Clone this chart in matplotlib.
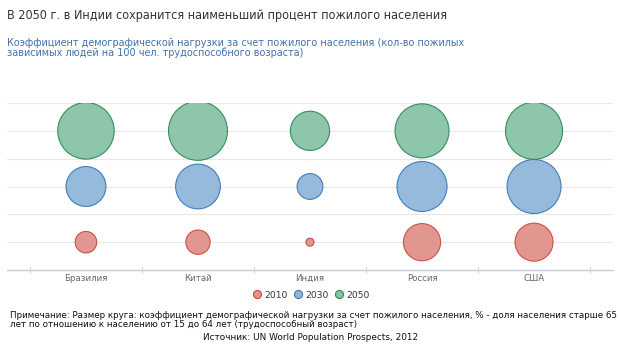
import numpy as np
import matplotlib.pyplot as plt
from matplotlib.lines import Line2D

# данные (коэффициент нагрузки пожилыми, на 100 чел. 15-64 лет)
countries = ['Бразилия', 'Китай', 'Индия', 'Россия', 'США']
years = ['2010', '2030', '2050']
ratio_2010 = [10.0, 11.0, 7.8, 18.0, 18.6]
ratio_2030 = [20.0, 24.0, 11.6, 29.0, 33.2]
ratio_2050 = [36.0, 39.0, 19.5, 33.2, 36.6]

fills = ['#e0918a', '#91b7da', '#87c3a6']
edges = ['#cf4a40', '#3c79b6', '#2e8a5a']

W, H = 620, 349
fig = plt.figure(figsize=(W / 100, H / 100), dpi=100)
plt.rcParams['font.family'] = ['DejaVu Sans']


def fx(px):
    return px / W


def fy(py):
    return 1 - py / H


ax = fig.add_axes([fx(7), fy(270), fx(613) - fx(7), fy(103) - fy(270)])

# размер круга как в bubble-диаграмме: диаметр по sqrt от нормированного значения
series = [ratio_2010, ratio_2030, ratio_2050]
zmin = min(min(s) for s in series)
zmax = max(max(s) for s in series)
min_d, max_d = 8, 59  # px


def diam(v):
    pos = (np.array(v) - zmin) / (zmax - zmin)
    return min_d + np.sqrt(pos) * (max_d - min_d)


x = np.arange(len(countries))
for i, vals in enumerate(series):
    d_pt = diam(vals) * 0.72
    ax.scatter(x, np.full(len(x), i), s=d_pt ** 2, color=fills[i], alpha=0.95,
               edgecolor=edges[i], linewidth=0.8, zorder=3)

ax.set_xlim(-0.705, 4.705)
ax.set_ylim(-0.5, 2.5)
ax.set_yticks([0, 0.5, 1, 1.5, 2, 2.5])
ax.set_yticklabels([])
ax.tick_params(axis='y', length=0)
ax.grid(axis='y', color='#e8e8e8', linewidth=0.8, zorder=0)
for s in ['top', 'right', 'left']:
    ax.spines[s].set_visible(False)
ax.spines['bottom'].set_color('#c0d0e0')
ax.spines['bottom'].set_linewidth(1)
ax.set_xticks(np.arange(-0.5, 5, 1), minor=False)
ax.set_xticklabels([])
ax.tick_params(axis='x', which='major', length=4, color='#c0d0e0', direction='inout')
ax.set_xticks(x, minor=True)
ax.set_xticklabels(countries, minor=True)
ax.tick_params(axis='x', which='minor', length=0, labelsize=6.2, labelcolor='#666666', pad=3)

fig.text(fx(7), fy(15), 'В 2050 г. в Индии сохранится наименьший процент пожилого населения',
         fontsize=9.0, fontstretch='condensed', color='#333333', va='center', ha='left')
fig.text(fx(7), fy(48), 'Коэффициент демографической нагрузки за счет пожилого населения (кол-во пожилых\n'
         'зависимых людей на 100 чел. трудоспособного возраста)',
         fontsize=7.75, fontstretch='condensed', color='#4572a7', va='center', ha='left', linespacing=0.95)

handles = [Line2D([], [], marker='o', linestyle='none', markersize=5.8,
                  markerfacecolor=fills[i], markeredgecolor=edges[i], markeredgewidth=0.8)
           for i in range(3)]
fig.legend(handles, years, loc='center', bbox_to_anchor=(fx(311), fy(295)), ncol=3,
           frameon=False, fontsize=6.6, handletextpad=0.3, columnspacing=0.6,
           handlelength=1.0, labelcolor='#333333')

fig.text(fx(10), fy(320), 'Примечание: Размер круга: коэффициент демографической нагрузки за счет пожилого населения, % - доля населения старше 65\n'
         'лет по отношению к населению от 15 до 64 лет (трудоспособный возраст)',
         fontsize=6.3, color='#111111', va='center', ha='left', linespacing=0.95)
fig.text(fx(311), fy(337), 'Источник: UN World Population Prospects, 2012',
         fontsize=6.4, color='#111111', va='center', ha='center')

fig.savefig('out.png', dpi=100)
